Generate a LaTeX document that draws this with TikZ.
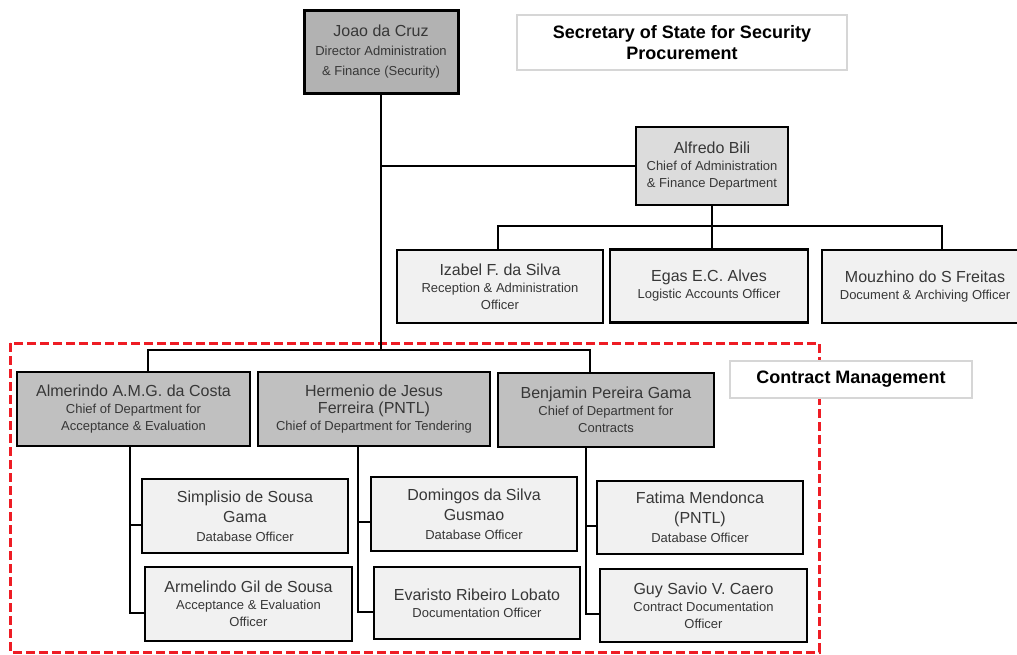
\documentclass[tikz,border=0pt]{standalone}
\usepackage{fontspec}
\setmainfont{Liberation Sans}
\usetikzlibrary{calc}

\definecolor{directorgray}{RGB}{178,178,178}
\definecolor{chiefgray}{RGB}{220,220,220}
\definecolor{deptgray}{RGB}{192,192,192}
\definecolor{staffgray}{RGB}{241,241,241}
\definecolor{labelline}{RGB}{214,214,214}
\definecolor{textgray}{RGB}{55,55,55}
\definecolor{cmred}{RGB}{238,28,36}

\newcommand{\nm}[1]{{\fontsize{16}{20}\selectfont #1}}

\begin{document}
\begin{tikzpicture}[x=1pt,y=-1pt,
    orgbox/.style={draw=black, align=center, inner sep=0pt, text=textgray,
        font=\fontsize{13}{17}\selectfont},
    directorbox/.style={orgbox, fill=directorgray, line width=3pt},
    chiefbox/.style={orgbox, fill=chiefgray, line width=2.6pt},
    deptbox/.style={orgbox, fill=deptgray, line width=2.4pt},
    staffbox/.style={orgbox, fill=staffgray, line width=2.2pt,
        minimum width=206pt, minimum height=73pt},
    titlebox/.style={draw=labelline, fill=white, line width=1.2pt, align=center,
        inner sep=0pt, font=\bfseries\fontsize{18}{21}\selectfont},
    link/.style={line width=2pt},
    cmframe/.style={draw=cmred, line width=3pt, dash pattern=on 9pt off 4pt}]
    \useasboundingbox (0,0) rectangle (1017,654);

    % Director and title
    \node[directorbox, minimum width=154pt, minimum height=83pt] (joao) at (381,51.5)
        {\nm{Joao da Cruz}\\[2pt]Director Administration\\[3pt]\& Finance (Security)};
    \node[titlebox, minimum width=330pt, minimum height=55pt] (secretary) at (682,42.5)
        {Secretary of State for Security\\Procurement};

    % Administration & finance
    \node[chiefbox, minimum width=152pt, minimum height=78pt] (alfredo) at (712,166)
        {\nm{Alfredo Bili}\\Chief of Administration\\\& Finance Department};
    \node[staffbox] (izabel) at (500,286.5)
        {\nm{Izabel F. da Silva}\\Reception \& Administration\\Officer};
    \node[staffbox, minimum width=198pt] (egas) at (709,286)
        {\nm{Egas E.C. Alves}\\Logistic Accounts Officer};
    \node[staffbox] (mouzhino) at (925,286.5)
        {\nm{Mouzhino  do S Freitas}\\Document \& Archiving Officer};

    % Contract management frame
    \draw[cmframe] (10,343) rectangle (819,652);
    \node[titlebox, minimum width=242pt, minimum height=37pt] (cmlabel) at (851,379.5)
        {Contract Management};

    % Departments
    \node[deptbox, minimum width=233pt, minimum height=74pt] (almerindo) at (133.5,409)
        {\nm{Almerindo  A.M.G. da Costa}\\Chief of Department for\\Acceptance \& Evaluation};
    \node[deptbox, minimum width=232pt, minimum height=74pt] (hermenio) at (374,409)
        {\nm{Hermenio  de Jesus}\\\nm{Ferreira  (PNTL)}\\Chief of Department for Tendering};
    \node[deptbox, minimum width=216pt, minimum height=74pt] (benjamin) at (606,410)
        {\nm{Benjamin  Pereira  Gama}\\Chief of Department for\\Contracts};

    % Officers
    \node[staffbox, minimum height=74pt] (simplisio) at (245,516)
        {\nm{Simplisio  de  Sousa}\\[3pt]\nm{Gama}\\[2pt]Database Officer};
    \node[staffbox, minimum width=207pt, minimum height=74pt] (armelindo) at (248.5,604)
        {\nm{Armelindo  Gil de Sousa}\\Acceptance \& Evaluation\\Officer};
    \node[staffbox, minimum height=74pt] (domingos) at (474,514)
        {\nm{Domingos  da  Silva}\\[3pt]\nm{Gusmao}\\[2pt]Database Officer};
    \node[staffbox, minimum height=72pt] (evaristo) at (477,603)
        {\nm{Evaristo  Ribeiro  Lobato}\\Documentation Officer};
    \node[staffbox] (fatima) at (700,517.5)
        {\nm{Fatima Mendonca}\\[3pt]\nm{(PNTL)}\\[2pt]Database Officer};
    \node[staffbox, minimum width=207pt] (guy) at (703.5,605.5)
        {\nm{Guy  Savio  V.  Caero}\\Contract Documentation\\Officer};

    % Lines
    \coordinate (admbar) at (0,226);
    \coordinate (cmbar) at (0,350);
    \draw[link] (joao.south) -- (joao.south |- cmbar);
    \draw[link] (joao.south |- alfredo.west) -- (alfredo.west);
    \draw[link] (alfredo.south) -- (alfredo.south |- izabel.north);
    \draw[link] ([xshift=-2]izabel.north) |- ([xshift=17]mouzhino.north |- admbar)
        -- ([xshift=17]mouzhino.north);
    \draw[link] ([xshift=14.5]almerindo.north) |- ([xshift=-16]benjamin.north |- cmbar)
        -- ([xshift=-16]benjamin.north);
    \draw[link] ([xshift=-3.5]almerindo.south) |- ([yshift=-9]simplisio.west);
    \draw[link] ([xshift=-3.5]almerindo.south) |- ([yshift=-9]armelindo.west);
    \draw[link] ([xshift=-16]hermenio.south) |- ([yshift=-8]domingos.west);
    \draw[link] ([xshift=-16]hermenio.south) |- ([yshift=-9]evaristo.west);
    \draw[link] ([xshift=-20]benjamin.south) |- ([yshift=-8.5]fatima.west);
    \draw[link] ([xshift=-20]benjamin.south) |- ([yshift=-8.5]guy.west);
\end{tikzpicture}
\end{document}
